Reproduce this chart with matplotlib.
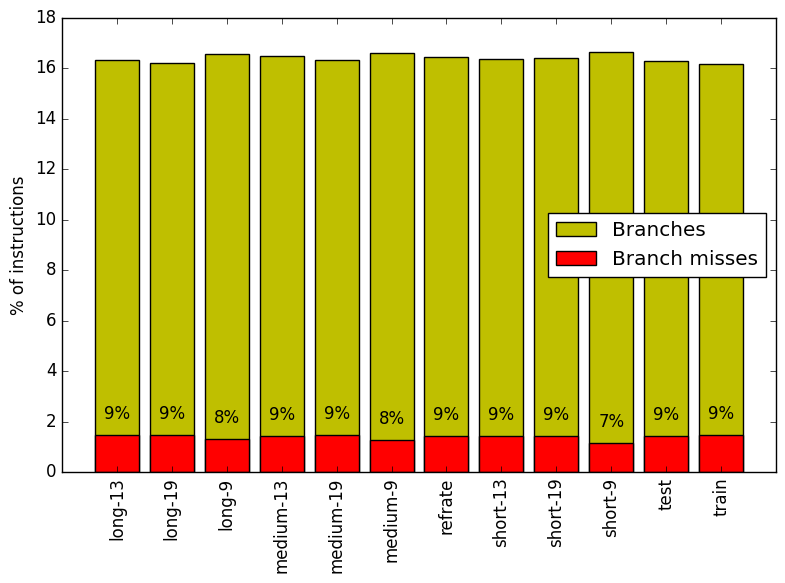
import matplotlib
matplotlib.use("Agg")
import matplotlib.pyplot as plt
import numpy as np

plt.style.use('classic')

categories = ["long-13", "long-19", "long-9", "medium-13", "medium-19", "medium-9",
              "refrate", "short-13", "short-19", "short-9", "test", "train"]
branches = [16.32, 16.20, 16.56, 16.48, 16.32, 16.60, 16.44, 16.36, 16.40, 16.64, 16.29, 16.17]
misses = [1.45, 1.45, 1.30, 1.42, 1.45, 1.26, 1.41, 1.41, 1.41, 1.14, 1.41, 1.45]

fig, ax = plt.subplots(figsize=(7.85, 5.83), dpi=100)
fig.patch.set_facecolor('white')
x = np.arange(len(categories))
ax.bar(x, branches, width=0.8, align='center', color='y', edgecolor='black', label='Branches')
ax.bar(x, misses, width=0.8, align='center', color='r', edgecolor='black', label='Branch misses')
for xi, b, m in zip(x, branches, misses):
    ax.text(xi, m + 0.5, "%d%%" % int(round(100.0 * m / b)), ha='center', va='bottom', fontsize=12)
ax.set_xticks(x)
ax.set_xticklabels(categories, rotation=90, fontsize=12)
ax.set_xlim(-1, len(categories))
ax.set_ylim(0, 18)
ax.set_ylabel("% of instructions", fontsize=12)
ax.legend(loc='center right', fontsize=14.4)
fig.subplots_adjust(left=62/785, right=776/785, top=1-18/583, bottom=1-472/583)
fig.savefig("out.png", dpi=100, facecolor='white')
